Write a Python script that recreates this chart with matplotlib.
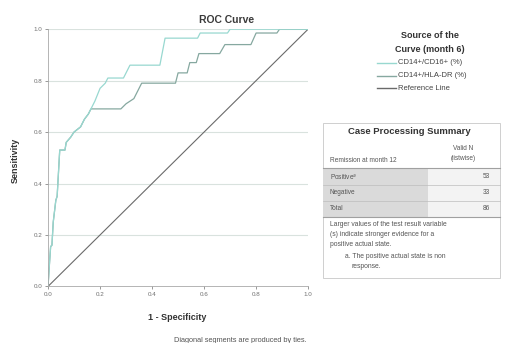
import numpy as np
import matplotlib.pyplot as plt
from matplotlib.patches import Rectangle
from matplotlib.lines import Line2D

plt.rcParams['font.family'] = ['Liberation Sans', 'DejaVu Sans']

# ROC coordinates (1 - specificity, sensitivity)
fpr_cd16 = [0, 0.005, 0.01, 0.015, 0.02, 0.03, 0.035, 0.045, 0.065, 0.07, 0.087, 0.10,
            0.125, 0.14, 0.155, 0.165, 0.18, 0.20, 0.22, 0.23, 0.29, 0.30, 0.315, 0.43,
            0.45, 0.575, 0.585, 0.69, 0.70, 1.0]
tpr_cd16 = [0, 0.08, 0.155, 0.16, 0.25, 0.335, 0.35, 0.53, 0.53, 0.56, 0.58, 0.60,
            0.62, 0.65, 0.67, 0.69, 0.72, 0.77, 0.79, 0.81, 0.81, 0.83, 0.86, 0.86,
            0.965, 0.965, 0.985, 0.985, 1.0, 1.0]

fpr_hla = [0, 0.005, 0.01, 0.015, 0.02, 0.03, 0.035, 0.045, 0.065, 0.07, 0.087, 0.10,
           0.125, 0.14, 0.155, 0.165, 0.175, 0.28, 0.30, 0.33, 0.35, 0.36, 0.49, 0.50,
           0.535, 0.545, 0.57, 0.58, 0.66, 0.68, 0.78, 0.80, 0.88, 0.89, 1.0]
tpr_hla = [0, 0.08, 0.155, 0.16, 0.25, 0.335, 0.35, 0.53, 0.53, 0.56, 0.58, 0.60,
           0.62, 0.65, 0.67, 0.69, 0.69, 0.69, 0.71, 0.73, 0.77, 0.79, 0.79, 0.83,
           0.83, 0.87, 0.87, 0.905, 0.905, 0.94, 0.94, 0.985, 0.985, 1.0, 1.0]

ref_line = [0, 1]

series_names = ['CD14+/CD16+ (%)', 'CD14+/HLA-DR (%)', 'Reference Line']
series_colors = ['#98d8d0', '#86a8a0', '#6a6a6a']

ticks = [0.0, 0.2, 0.4, 0.6, 0.8, 1.0]

# case processing summary
row_labels = ['Positive', 'Negative', 'Total']
row_counts = [53, 33, 86]

fig = plt.figure(figsize=(5.11, 3.43), dpi=100)
ax = fig.add_axes([0.094, 0.165, 0.509, 0.75])

for y in ticks[1:]:
    ax.axhline(y, color='#d9e2de', lw=0.8, zorder=0)

ax.plot(ref_line, ref_line, color=series_colors[2], lw=0.8)
ax.plot(fpr_hla, tpr_hla, color=series_colors[1], lw=0.9)
ax.plot(fpr_cd16, tpr_cd16, color=series_colors[0], lw=0.9)

ax.set_xlim(0, 1)
ax.set_ylim(0, 1)
ax.set_xticks(ticks)
ax.set_yticks(ticks)
ax.set_xticklabels(['%.1f' % t for t in ticks])
ax.set_yticklabels(['%.1f' % t for t in ticks])
ax.tick_params(labelsize=4.5, colors='#707070', length=2, width=0.5, pad=2)
for s in ['top', 'right']:
    ax.spines[s].set_visible(False)
for s in ['left', 'bottom']:
    ax.spines[s].set_color('#a8a8a8')
    ax.spines[s].set_linewidth(0.6)

fig.text(227 / 511, 1 - 20 / 343, 'ROC Curve', ha='center', va='center',
         fontsize=7.5, fontweight='bold', color='#3a3a3a')
fig.text(15 / 511, 1 - 160 / 343, 'Sensitivity', ha='center', va='center',
         rotation=90, fontsize=6.5, fontweight='bold', color='#333333')
fig.text(177 / 511, 1 - 318 / 343, '1 - Specificity', ha='center', va='center',
         fontsize=6.5, fontweight='bold', color='#333333')
fig.text(307 / 511, 1 - 341 / 343, 'Diagonal segments are produced by ties.',
         ha='right', va='center', fontsize=5.3, color='#555555')

# legend
fig.text(430 / 511, 1 - 36 / 343, 'Source of the', ha='center', va='center',
         fontsize=6.5, fontweight='bold', color='#333333')
fig.text(430 / 511, 1 - 49 / 343, 'Curve (month 6)', ha='center', va='center',
         fontsize=6.5, fontweight='bold', color='#333333')
for i, (name, col) in enumerate(zip(series_names, series_colors)):
    yy = 1 - (63 + i * 12.5) / 343
    fig.add_artist(Line2D([377 / 511, 396 / 511], [yy, yy], color=col, lw=1.0))
    fig.text(398 / 511, yy, name, ha='left', va='center', fontsize=5.5, color='#444444')


# summary table, drawn in pixel space
def fx(px):
    return px / 511


def fy(py):
    return 1 - py / 343


fig.add_artist(Rectangle((fx(323), fy(278)), fx(500) - fx(323), fy(123) - fy(278),
                         fill=False, ec='#c8c8c8', lw=0.6))
fig.text(fx(409), fy(131), 'Case Processing Summary', ha='center', va='center',
         fontsize=6.8, fontweight='bold', color='#333333')
fig.text(fx(330), fy(160), 'Remission at month 12', ha='left', va='center',
         fontsize=4.7, color='#555555')
fig.text(fx(463), fy(148), 'Valid N', ha='center', va='center',
         fontsize=4.7, color='#555555')
fig.text(fx(463), fy(158), '(listwise)', ha='center', va='center',
         fontsize=4.7, color='#555555')
fig.add_artist(Line2D([fx(323), fx(500)], [fy(168), fy(168)], color='#a0a0a0', lw=0.8))

row_y = [177, 193, 209]
fig.add_artist(Rectangle((fx(323), fy(217)), fx(428) - fx(323), fy(169) - fy(217),
                         fc='#dadada', ec='none'))
fig.add_artist(Rectangle((fx(428), fy(217)), fx(500) - fx(428), fy(169) - fy(217),
                         fc='#f3f3f3', ec='none'))
for sep in [185, 201]:
    fig.add_artist(Line2D([fx(323), fx(500)], [fy(sep), fy(sep)], color='#bdbdbd', lw=0.5))
fig.add_artist(Line2D([fx(323), fx(500)], [fy(217), fy(217)], color='#a0a0a0', lw=0.8))
for lab, n, yy in zip(row_labels, row_counts, row_y):
    txt = lab + '$^a$' if lab == 'Positive' else lab
    fig.text(fx(330), fy(yy), txt, ha='left', va='center', fontsize=4.7, color='#555555')
    fig.text(fx(490), fy(yy), str(n), ha='right', va='center', fontsize=4.7, color='#555555')

notes = ['Larger values of the test result variable',
         '(s) indicate stronger evidence for a',
         'positive actual state.']
for i, line in enumerate(notes):
    fig.text(fx(330), fy(224 + i * 10.5), line, ha='left', va='center',
             fontsize=4.9, color='#555555')
fig.text(fx(345), fy(257), 'a. The positive actual state is non', ha='left', va='center',
         fontsize=4.9, color='#555555')
fig.text(fx(352), fy(267), 'response.', ha='left', va='center',
         fontsize=4.9, color='#555555')

plt.savefig('out.png', dpi=100)
